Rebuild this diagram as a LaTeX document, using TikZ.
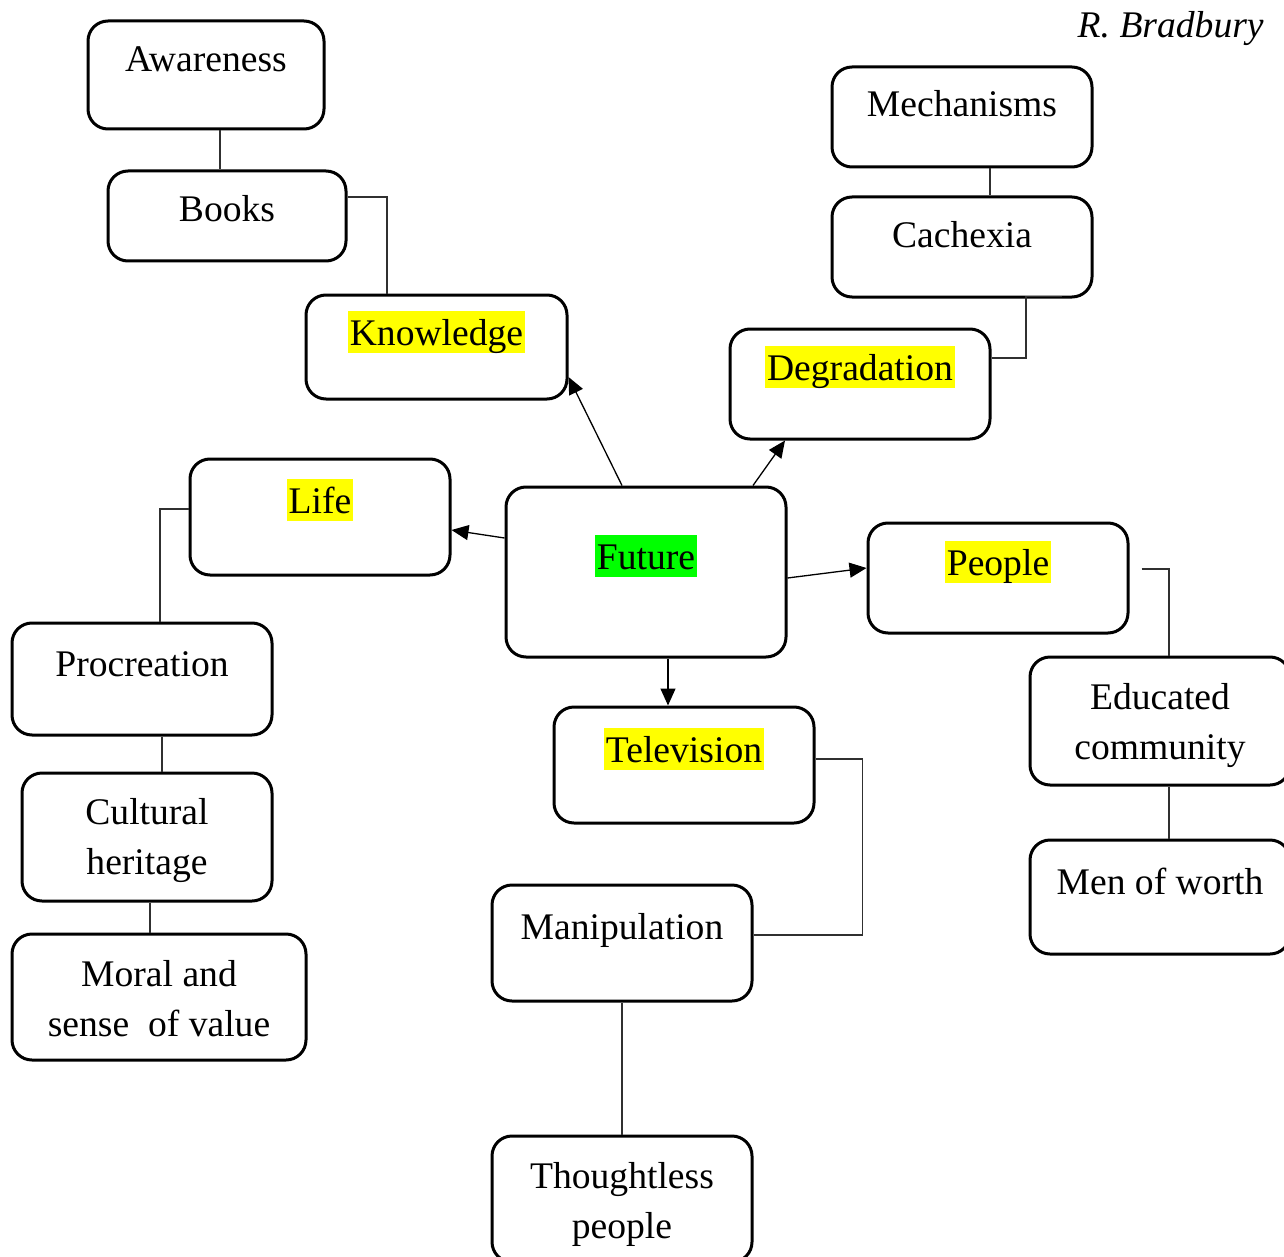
\documentclass[tikz,border=0pt]{standalone}
\usepackage{fontspec}
\setmainfont{Liberation Serif}
\usetikzlibrary{arrows.meta}
\definecolor{hlyellow}{HTML}{FFFF00}
\definecolor{hlgreen}{HTML}{00FF00}
\definecolor{connc}{HTML}{303030}
\begin{document}
\begin{tikzpicture}[x=0.5pt,y=-0.5pt,
  box/.style={draw, line width=1.5pt, rounded corners=10pt, inner sep=0pt},
  txt/.style={font=\fontsize{18.8}{25}\selectfont, anchor=base, inner sep=0pt, align=center},
  hl/.style={txt, fill=hlyellow, text height=17pt, text depth=4pt, inner xsep=1pt, inner ysep=0pt},
  hlg/.style={hl, fill=hlgreen},
  conn/.style={draw=connc, line width=0.65pt},
  arr/.style={draw=black, line width=0.65pt, -{Triangle[length=8.5pt,width=7.5pt]}}]
\useasboundingbox (0,0) rectangle (1284,1257);
% boxes
\node[box, minimum width=118pt, minimum height=54pt] (aware) at (206,75) {};
\node[box, minimum width=119pt, minimum height=45pt] (books) at (227,216) {};
\node[box, minimum width=130.5pt, minimum height=52pt] (know) at (436.5,347) {};
\node[box, minimum width=130pt, minimum height=50pt] (mech) at (962,117) {};
\node[box, minimum width=130pt, minimum height=50pt] (cach) at (962,247) {};
\node[box, minimum width=130pt, minimum height=55pt] (degr) at (860,384) {};
\node[box, minimum width=130pt, minimum height=58pt] (life) at (320,517) {};
\node[box, minimum width=140pt, minimum height=85pt] (future) at (646,572) {};
\node[box, minimum width=130pt, minimum height=55pt] (people) at (998,578) {};
\node[box, minimum width=130pt, minimum height=56pt] (procr) at (142,679) {};
\node[box, minimum width=130pt, minimum height=58pt] (tv) at (684,765) {};
\node[box, minimum width=130pt, minimum height=64pt] (edu) at (1160,721) {};
\node[box, minimum width=125pt, minimum height=64pt] (cult) at (147,837) {};
\node[box, minimum width=130pt, minimum height=57pt] (men) at (1160,897) {};
\node[box, minimum width=130pt, minimum height=58pt] (manip) at (622,943) {};
\node[box, minimum width=147pt, minimum height=63pt] (moral) at (159,997) {};
\node[box, minimum width=130pt, minimum height=63pt] (thought) at (622,1199) {};
% texts (multi-line nodes are placed by the baseline of their last line)
\node[txt] (aware-t) at (206,72) {Awareness};
\node[txt] (books-t) at (227,221) {Books};
\node[hl] (know-t) at (436.5,345) {Knowledge};
\node[txt] (mech-t) at (962,117) {Mechanisms};
\node[txt] (cach-t) at (962,248) {Cachexia};
\node[hl] (degr-t) at (860,380) {Degradation};
\node[hl] (life-t) at (320,513) {Life};
\node[hlg] (future-t) at (646,569) {Future};
\node[hl] (people-t) at (998,575) {People};
\node[txt] (procr-t) at (142,676) {Procreation};
\node[hl] (tv-t) at (684,762) {Television};
\node[txt] (edu-t) at (1160,759) {Educated\\community};
\node[txt] (cult-t) at (147,874) {Cultural\\heritage};
\node[txt] (men-t) at (1160,894) {Men of worth};
\node[txt] (manip-t) at (622,939) {Manipulation};
\node[txt] (moral-t) at (159,1036) {Moral and\\sense\ \ of value};
\node[txt] (thought-t) at (622,1238) {Thoughtless\\people};
\node[txt, anchor=base east, font=\fontsize{18.8}{25}\selectfont\itshape] (author) at (1264,38) {R. Bradbury};
% plain connectors
\draw[conn] ([xshift=7pt]aware.south) -- ([xshift=7pt]aware.south |- books.north);
\draw[conn] ([yshift=9.5pt]books.east) -| ([xshift=-24.75pt]know.north);
\draw[conn] ([xshift=14pt]mech.south) -- ([xshift=14pt]mech.south |- cach.north);
\draw[conn] ([xshift=50pt,yshift=1pt]cach.south) -- ([xshift=32pt,yshift=1pt]cach.south) |- ([yshift=13pt]degr.east);
\draw[conn] ([yshift=4pt]life.west) -| ([xshift=9pt]procr.north);
\draw[conn] ([xshift=10pt]procr.south) -- ([xshift=10pt]procr.south |- cult.north);
\draw[conn] ([xshift=1.5pt]cult.south) -- ([xshift=1.5pt]cult.south |- moral.north);
\draw[conn] ([shift={(6pt,4.5pt)}]people.east) -| ([xshift=4.5pt]edu.north);
\draw[conn] ([xshift=4.5pt]edu.south) -- ([xshift=4.5pt]edu.south |- men.north);
\draw[conn] ([yshift=3pt]tv.east) -- ++(23.5pt,0) |- ([yshift=4pt]manip.east);
\draw[conn] (manip.south) -- (thought.north);
% arrows from Future
\draw[arr] ([xshift=-12pt]future.north) -- ([yshift=-15pt]know.east);
\draw[arr] ([xshift=53.5pt]future.north) -- ([xshift=-37.5pt]degr.south);
\draw[arr] ([yshift=17pt]future.west) -- ([yshift=-6.5pt]life.east);
\draw[arr] ([yshift=-3pt]future.east) -- ([yshift=5pt]people.west);
\draw[arr] ([xshift=11pt]future.south) -- ([xshift=11pt]future.south |- tv.north);
\end{tikzpicture}
\end{document}
